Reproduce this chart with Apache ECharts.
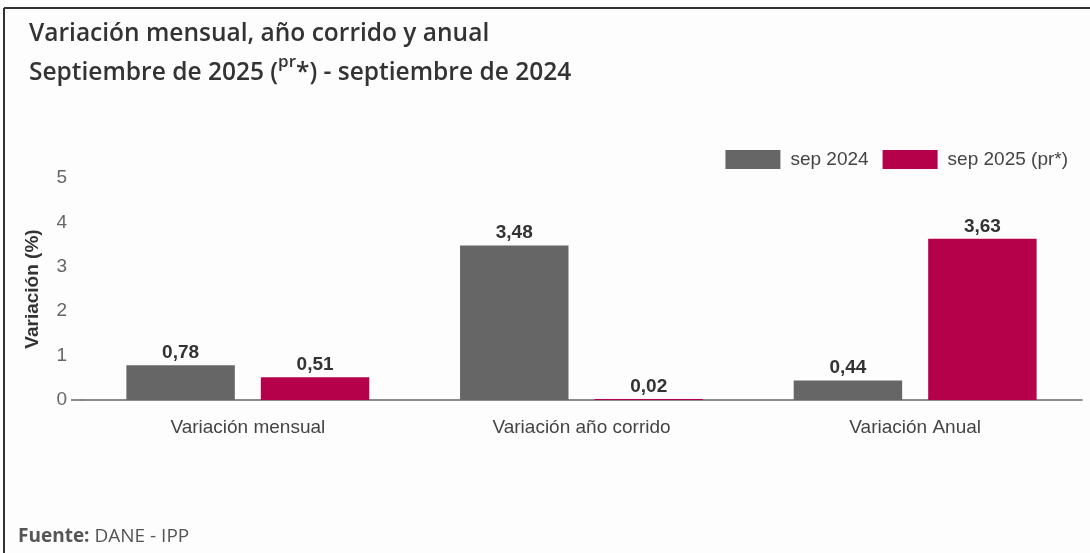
<!DOCTYPE html>
<html>
<head>
<meta charset="utf-8">
<script src="https://cdn.jsdelivr.net/npm/echarts@6/dist/echarts.min.js"></script>
<style>
  html, body { margin: 0; padding: 0; background: #fdfdfd; }
  #chart { width: 1090px; height: 553px; }
</style>
</head>
<body>
<div id="chart"></div>
<script>
// datos
var categorias = ['Variación mensual', 'Variación año corrido', 'Variación Anual'];
var sep2024 = [0.78, 3.48, 0.44];
var sep2025 = [0.51, 0.02, 3.63];
var yTicks = [0, 1, 2, 3, 4, 5];

var myChart = echarts.init(document.getElementById('chart'));

var etiqueta = {
  show: true,
  position: 'top',
  distance: 3,
  fontFamily: 'Liberation Sans, Arial, sans-serif',
  fontSize: 19,
  fontWeight: 'bold',
  color: '#333',
  formatter: function (p) { return p.value.toFixed(2).replace('.', ','); }
};

var option = {
  backgroundColor: '#fdfdfd',
  animation: false,
  title: {
    left: 24,
    top: 10,
    text: 'Variación mensual, año corrido y anual\n{a|Septiembre de 2025 (}{sup|pr}{a|*) - septiembre de 2024}',
    textStyle: {
      fontFamily: 'Open Sans, Noto Sans, sans-serif',
      fontSize: 24.5,
      fontWeight: 600,
      color: '#333',
      lineHeight: 39,
      rich: {
        a: { fontFamily: 'Open Sans', fontSize: 24.5, fontWeight: 600, color: '#333', lineHeight: 39 },
        sup: { fontFamily: 'Open Sans', fontSize: 17, fontWeight: 600, color: '#333', verticalAlign: 'top', padding: [0, 0, 1, 0], lineHeight: 39 }
      }
    }
  },
  legend: {
    right: 17,
    top: 145,
    itemWidth: 55,
    itemHeight: 19,
    itemGap: 14,
    icon: 'rect',
    textStyle: { fontFamily: 'Liberation Sans, Arial', fontSize: 19, color: '#444', padding: [0, 0, 0, 5] },
    data: ['sep 2024', 'sep 2025 (pr*)']
  },
  grid: { left: 81, right: 8, top: 178, bottom: 153, containLabel: false },
  xAxis: {
    type: 'category',
    data: categorias,
    axisLine: { lineStyle: { color: '#666', width: 1.5 } },
    axisTick: { show: false },
    axisLabel: { fontFamily: 'Liberation Sans, Arial', fontSize: 19, color: '#444', margin: 18 }
  },
  yAxis: {
    type: 'value',
    min: yTicks[0],
    max: yTicks[yTicks.length - 1],
    interval: 1,
    name: 'Variación (%)',
    nameLocation: 'middle',
    nameGap: 39,
    nameTextStyle: { fontFamily: 'Liberation Sans, Arial', fontSize: 19, fontWeight: 'bold', color: '#333' },
    axisLine: { show: false },
    axisTick: { show: false },
    splitLine: { show: false },
    axisLabel: { fontFamily: 'Liberation Sans, Arial', fontSize: 19, color: '#666', margin: 14 }
  },
  series: [
    {
      name: 'sep 2024',
      type: 'bar',
      data: sep2024,
      barWidth: '32.5%',
      barGap: '24%',
      itemStyle: { color: '#666666' },
      label: etiqueta
    },
    {
      name: 'sep 2025 (pr*)',
      type: 'bar',
      data: sep2025,
      barWidth: '32.5%',
      itemStyle: { color: '#b5004a' },
      label: etiqueta
    }
  ],
  graphic: [
    { type: 'line', shape: { x1: 4, y1: 8, x2: 1090, y2: 8 }, style: { stroke: '#333', lineWidth: 2 } },
    { type: 'line', shape: { x1: 4, y1: 8, x2: 4, y2: 553 }, style: { stroke: '#333', lineWidth: 2 } },
    { type: 'line', shape: { x1: 71, y1: 400, x2: 81, y2: 400 }, style: { stroke: '#666', lineWidth: 1.5 } },
    {
      type: 'text', left: 18, top: 527,
      style: {
        text: '{b|Fuente:} DANE - IPP',
        fontFamily: 'Open Sans, Noto Sans, sans-serif', fontSize: 19, fill: '#555',
        rich: { b: { fontFamily: 'Open Sans', fontSize: 19, fontWeight: 'bold', fill: '#555' } }
      }
    }
  ]
};

myChart.setOption(option);
</script>
</body>
</html>
